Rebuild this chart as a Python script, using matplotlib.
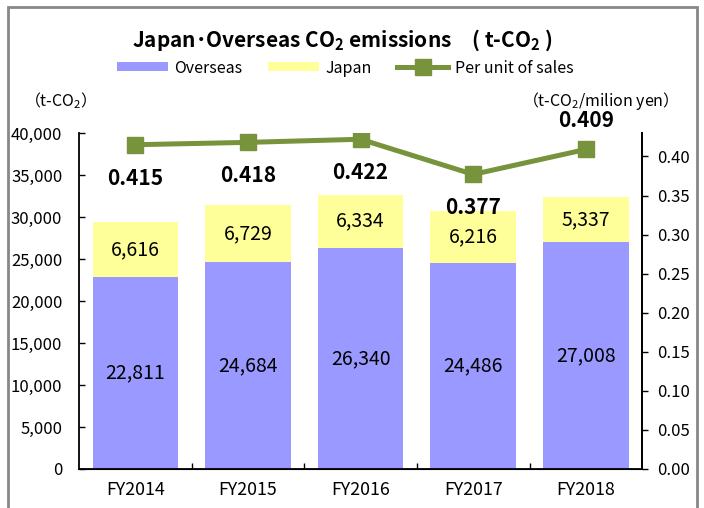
import numpy as np
import matplotlib.pyplot as plt
from matplotlib.patches import Rectangle

plt.rcParams['font.family'] = ['Noto Sans CJK JP', 'DejaVu Sans']
plt.rcParams['mathtext.fontset'] = 'custom'
plt.rcParams['mathtext.rm'] = 'Noto Sans CJK JP'
plt.rcParams['mathtext.bf'] = 'Noto Sans CJK JP:bold'

## Data ##
years = ["FY2014", "FY2015", "FY2016", "FY2017", "FY2018"]
overseas = [22811, 24684, 26340, 24486, 27008]
japan = [6616, 6729, 6334, 6216, 5337]
per_unit = [0.415, 0.418, 0.422, 0.377, 0.409]
left_ticks = [0, 5000, 10000, 15000, 20000, 25000, 30000, 35000, 40000]
right_ticks = [0.00, 0.05, 0.10, 0.15, 0.20, 0.25, 0.30, 0.35, 0.40]

# offsets of the per-unit labels (points, negative = above)
label_offsets = [24, 24, 24, 24, -21]

blue = "#9999FF"
yellow = "#FFFF99"
green = "#77933C"

fig = plt.figure(figsize=(7.04, 5.08), dpi=100)
ax = fig.add_axes([0.1122, 0.0768, 0.8, 0.6614])
x = np.arange(len(years))

ax.bar(x, overseas, width=0.76, color=blue, label="Overseas", zorder=2)
ax.bar(x, japan, width=0.76, bottom=overseas, color=yellow, label="Japan", zorder=2)

for i in range(len(years)):
    ax.text(x[i], overseas[i] / 2, f"{overseas[i]:,}", ha="center", va="center", fontsize=14, zorder=3)
    ax.text(x[i], overseas[i] + japan[i] / 2, f"{japan[i]:,}", ha="center", va="center", fontsize=14, zorder=3)

ax.set_xlim(-0.5, len(years) - 0.5)
ax.set_ylim(0, 40000)
ax.set_yticks(left_ticks)
ax.set_yticklabels([f"{v:,}" for v in left_ticks])
ax.set_xticks(x)
ax.set_xticklabels(years)
ax.set_xticks(np.arange(len(years) - 1) + 0.5, minor=True)
ax.tick_params(axis="x", which="major", length=0, pad=9, labelsize=12.8)
ax.tick_params(axis="x", which="minor", direction="in", length=4, width=1)
ax.tick_params(axis="y", direction="in", length=4, width=1, pad=12, labelsize=12)
ax.spines["top"].set_visible(False)
for s in ["left", "bottom", "right"]:
    ax.spines[s].set_linewidth(1.3)

ax2 = ax.twinx()
ax2.plot(x, per_unit, color=green, lw=3.6, marker="s", markersize=11.5, label="Per unit of sales", zorder=4)
ax2.set_ylim(0, 0.43)
ax2.set_yticks(right_ticks)
ax2.set_yticklabels([f"{v:.2f}" for v in right_ticks])
ax2.tick_params(axis="y", direction="out", length=4, width=1, pad=7, labelsize=12)
ax2.spines["top"].set_visible(False)
ax2.spines["right"].set_linewidth(1.3)
ax2.spines["left"].set_visible(False)

for i in range(len(years)):
    ax2.annotate(f"{per_unit[i]:.3f}", (x[i], per_unit[i]), xytext=(0, -label_offsets[i]),
                 textcoords="offset points", ha="center", va="center",
                 fontsize=15, fontweight="bold", zorder=5)

fig.text(0.486, 0.921, "Japan･Overseas CO$_\\mathbf{2}$ emissions　( t-CO$_\\mathbf{2}$ )",
         ha="center", va="center", fontsize=15, fontweight="bold")
fig.text(0.034, 0.802, "（t-CO$_2$）", ha="left", va="center", fontsize=11.5)
fig.text(0.742, 0.802, "（t-CO$_2$/milion yen）", ha="left", va="center", fontsize=11.5)

h1, l1 = ax.get_legend_handles_labels()
h2, l2 = ax2.get_legend_handles_labels()
fig.legend(h1 + h2, l1 + l2, loc="center", bbox_to_anchor=(0.49, 0.866), ncol=3, frameon=False,
           fontsize=11.5, handlelength=3.2, handleheight=0.5, columnspacing=1.6, handletextpad=0.4)

fig.add_artist(Rectangle((0.0107, -0.02), 0.979, 1.007, transform=fig.transFigure,
                         fill=False, edgecolor="#888888", lw=2))

fig.savefig("out.png", dpi=100)
